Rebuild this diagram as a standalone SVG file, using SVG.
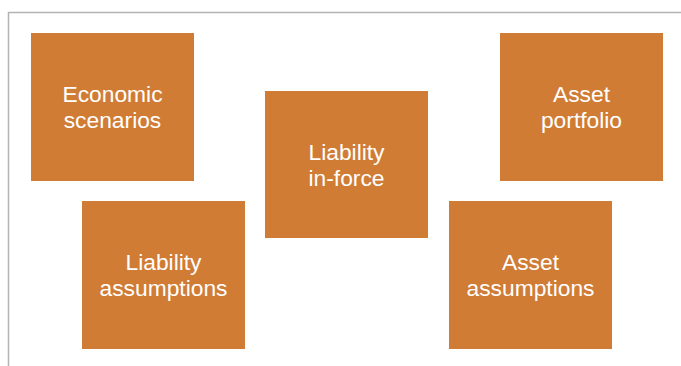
<svg xmlns="http://www.w3.org/2000/svg" width="681" height="366" viewBox="0 0 681 366">
<style>
.box{fill:#D07C35;}
.lbl{fill:#ffffff;font-family:"Liberation Sans",Arial,sans-serif;font-size:22.8px;text-anchor:middle;}
</style>
<rect x="0" y="0" width="681" height="366" fill="#ffffff"/>
<path d="M8.5,366 V12.5 H681" fill="none" stroke="#b3b3b3" stroke-width="1.5"/>
<g id="economic-scenarios">
<rect class="box" x="31" y="33" width="163" height="148"/>
<text class="lbl" x="112.5" y="102">Economic</text>
<text class="lbl" x="112.5" y="128">scenarios</text>
</g>
<g id="asset-portfolio">
<rect class="box" x="500" y="33" width="163" height="148"/>
<text class="lbl" x="581.5" y="102">Asset</text>
<text class="lbl" x="581.5" y="128">portfolio</text>
</g>
<g id="liability-in-force">
<rect class="box" x="265" y="91" width="163" height="147"/>
<text class="lbl" x="346.5" y="160">Liability</text>
<text class="lbl" x="346.5" y="186">in-force</text>
</g>
<g id="liability-assumptions">
<rect class="box" x="82" y="201" width="163" height="148"/>
<text class="lbl" x="163.5" y="270">Liability</text>
<text class="lbl" x="163.5" y="296">assumptions</text>
</g>
<g id="asset-assumptions">
<rect class="box" x="449" y="201" width="163" height="148"/>
<text class="lbl" x="530.5" y="270">Asset</text>
<text class="lbl" x="530.5" y="296">assumptions</text>
</g>
<g id="connectors"></g>
</svg>
